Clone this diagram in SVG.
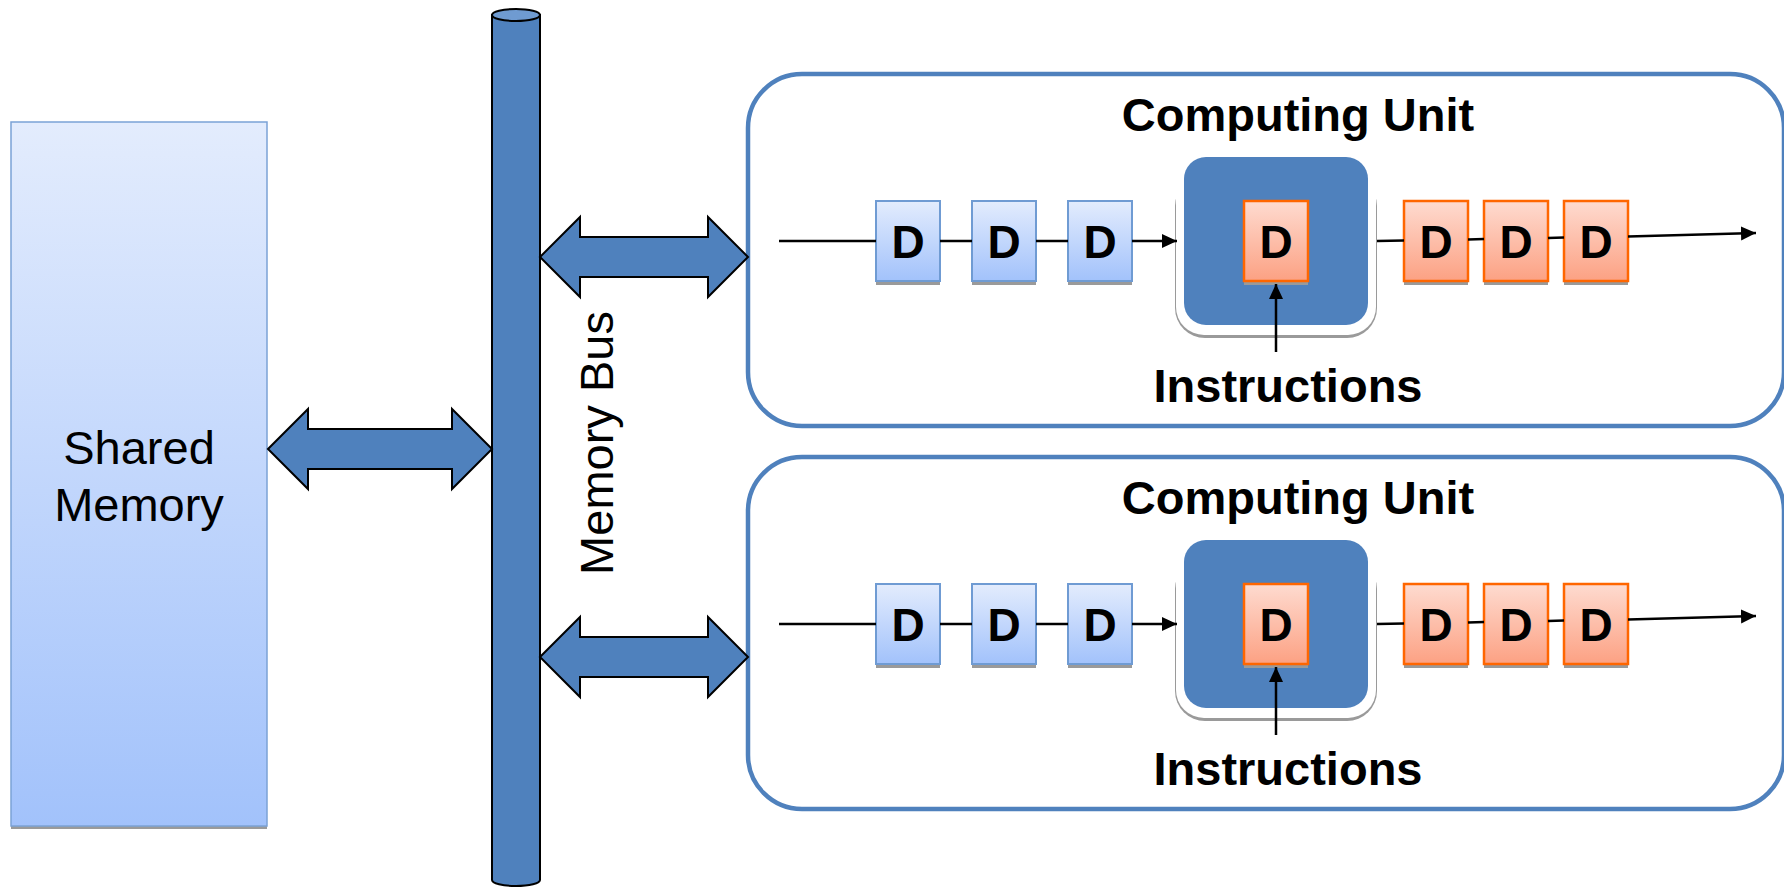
<svg xmlns="http://www.w3.org/2000/svg" width="1784" height="887" viewBox="0 0 1784 887">
<defs>
<linearGradient id="gBlue" x1="0" y1="0" x2="0" y2="1">
<stop offset="0" stop-color="#e3ecfd"/>
<stop offset="1" stop-color="#a2c2fb"/>
</linearGradient>
<linearGradient id="gOrange" x1="0" y1="0" x2="0" y2="1">
<stop offset="0" stop-color="#fedbd0"/>
<stop offset="1" stop-color="#fca183"/>
</linearGradient>
<marker id="ah" markerUnits="userSpaceOnUse" markerWidth="16" markerHeight="16" viewBox="0 0 16 16" refX="15" refY="8" orient="auto">
<path d="M0,1 L15,8 L0,15 Z" fill="#000"/>
</marker>
<g id="unit">
<rect x="748" y="74" width="1036" height="352" rx="54" fill="#fff" stroke="#4f81bd" stroke-width="4.5"/>
<text class="bold" x="1298" y="131">Computing Unit</text>
<text class="bold" x="1288" y="402">Instructions</text>
<rect class="sh" x="876" y="281" width="64" height="4"/>
<rect class="db" x="876" y="201" width="64" height="80"/>
<text class="d" x="908" y="258">D</text>
<rect class="sh" x="972" y="281" width="64" height="4"/>
<rect class="db" x="972" y="201" width="64" height="80"/>
<text class="d" x="1004" y="258">D</text>
<rect class="sh" x="1068" y="281" width="64" height="4"/>
<rect class="db" x="1068" y="201" width="64" height="80"/>
<text class="d" x="1100" y="258">D</text>
<rect x="1175" y="176" width="202" height="162" rx="30" fill="#9a9a9a"/>
<rect x="1176" y="150" width="200" height="185" rx="28" fill="#fff"/>
<rect x="1184" y="157" width="184" height="168" rx="22" fill="#4f81bd"/>
<rect class="sh" x="1244" y="281" width="64" height="4"/>
<rect class="ob" x="1244" y="201" width="64" height="80"/>
<text class="d" x="1276" y="258">D</text>
<rect class="sh" x="1404" y="281" width="64" height="4"/>
<rect class="ob" x="1404" y="201" width="64" height="80"/>
<text class="d" x="1436" y="258">D</text>
<rect class="sh" x="1484" y="281" width="64" height="4"/>
<rect class="ob" x="1484" y="201" width="64" height="80"/>
<text class="d" x="1516" y="258">D</text>
<rect class="sh" x="1564" y="281" width="64" height="4"/>
<rect class="ob" x="1564" y="201" width="64" height="80"/>
<text class="d" x="1596" y="258">D</text>
</g>
<g id="flow">
<line class="c" x1="779" y1="241" x2="876" y2="241"/>
<line class="c" x1="940" y1="241" x2="972" y2="241"/>
<line class="c" x1="1036" y1="241" x2="1068" y2="241"/>
<line class="c" x1="1132" y1="241" x2="1177" y2="241" marker-end="url(#ah)"/>
<line class="c" x1="1377" y1="241" x2="1404" y2="240.5"/>
<line class="c" x1="1468" y1="239.5" x2="1484" y2="239"/>
<line class="c" x1="1548" y1="238" x2="1564" y2="237.5"/>
<line class="c" x1="1628" y1="236.5" x2="1756" y2="233" marker-end="url(#ah)"/>
<line class="c" x1="1276" y1="352" x2="1276" y2="284" marker-end="url(#ah)"/>
</g>
</defs>
<style>
text{font-family:"Liberation Sans",Arial,sans-serif;fill:#000}
.bold{font-weight:bold;font-size:47px;text-anchor:middle}
.reg{font-size:47px;text-anchor:middle}
.d{font-weight:bold;font-size:46px;text-anchor:middle}
.db{fill:url(#gBlue);stroke:#6f9bd3;stroke-width:2}
.ob{fill:url(#gOrange);stroke:#ff6600;stroke-width:2.5}
.sh{fill:#9a9a9a}
.c{stroke:#000;stroke-width:2.5;fill:none}
.bus{fill:#4f81bd;stroke:#000;stroke-width:2}
</style>

<g id="shared-memory">
<rect x="11" y="825" width="256" height="4" fill="#9a9a9a"/>
<rect x="11" y="122" width="256" height="704" fill="url(#gBlue)" stroke="#7ba2d6" stroke-width="1.5"/>
<text class="reg" x="139" y="464">Shared</text>
<text class="reg" x="139" y="521">Memory</text>
</g>

<g id="memory-bus">
<path class="bus" d="M492,15 L492,880 A24,6 0 0 0 540,880 L540,15 Z"/>
<ellipse cx="516" cy="15" rx="24" ry="6" fill="#6f9bd1" stroke="#000" stroke-width="2"/>
<text class="reg" transform="translate(613,443) rotate(-90)" x="0" y="0">Memory Bus</text>
</g>

<g id="computing-unit-1">
<use href="#unit"/>
</g>
<g id="computing-unit-2" transform="translate(0,383)">
<use href="#unit"/>
</g>

<g id="connectors">
<path class="bus" d="M268,449 L308,409 L308,429 L452,429 L452,409 L492,449 L452,489 L452,469 L308,469 L308,489 Z"/>
<path class="bus" d="M540,257 L580,217 L580,237 L708,237 L708,217 L748,257 L708,297 L708,277 L580,277 L580,297 Z"/>
<path class="bus" d="M540,657 L580,617 L580,637 L708,637 L708,617 L748,657 L708,697 L708,677 L580,677 L580,697 Z"/>
<use href="#flow"/>
<use href="#flow" transform="translate(0,383)"/>
</g>
</svg>
